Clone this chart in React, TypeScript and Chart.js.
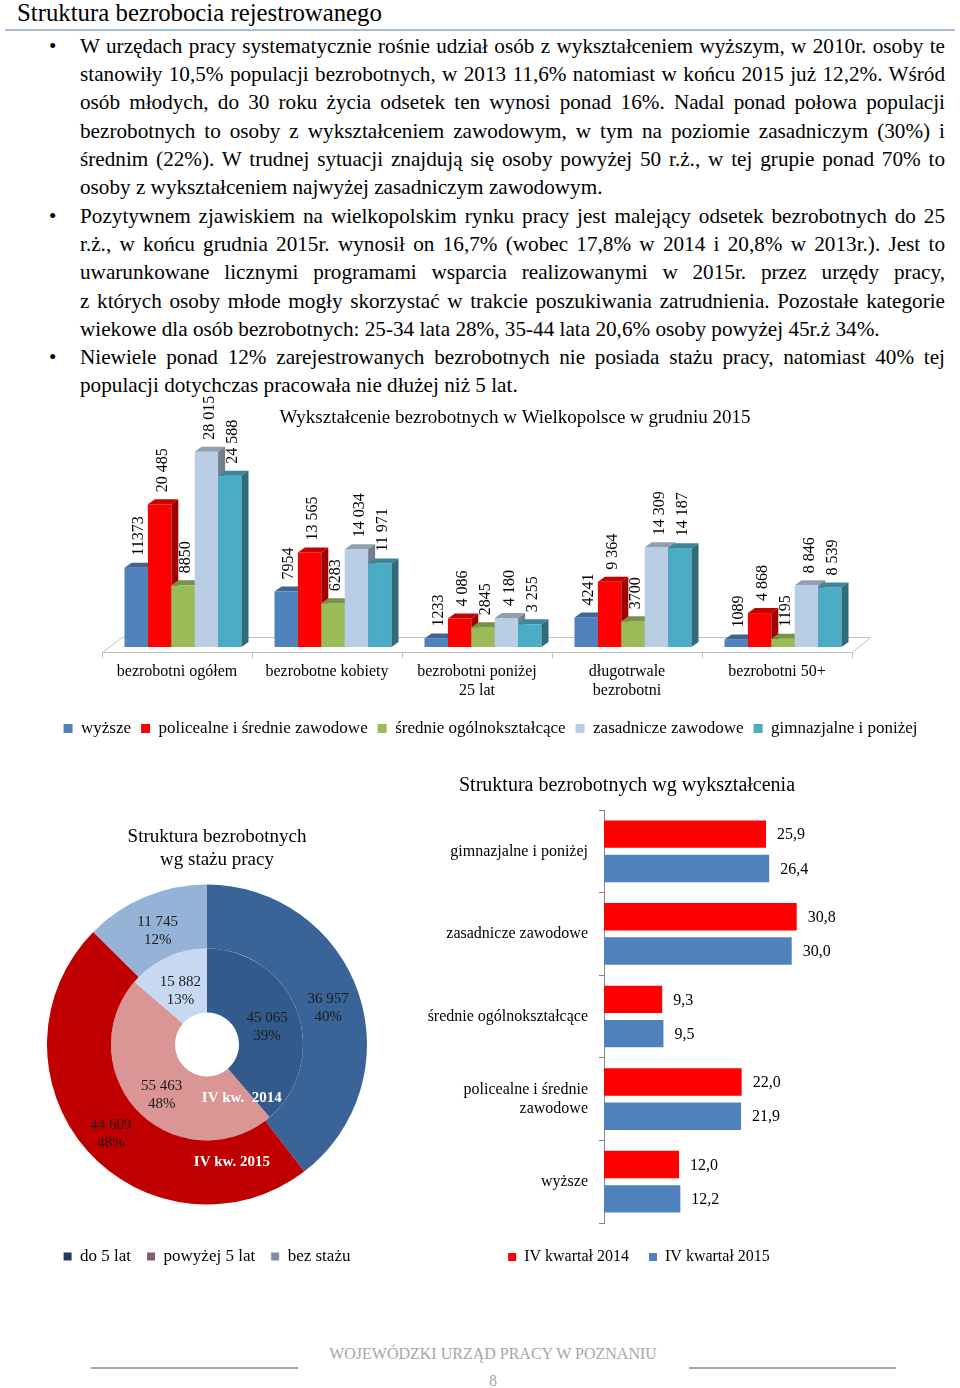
import React, { useEffect, useRef } from "react";
import { Chart, registerables } from "chart.js";

Chart.register(...registerables);

const SERIF = "'Liberation Serif', 'Times New Roman', Times, serif";

// ---------- Chart 1: Wykształcenie bezrobotnych ----------
const eduTitle = "Wykształcenie bezrobotnych w Wielkopolsce w grudniu 2015";
const eduCategories = [
  ["bezrobotni ogółem"],
  ["bezrobotne kobiety"],
  ["bezrobotni poniżej", "25 lat"],
  ["długotrwale", "bezrobotni"],
  ["bezrobotni 50+"],
];
const eduSeriesNames = [
  "wyższe",
  "policealne i średnie zawodowe",
  "średnie ogólnokształcące",
  "zasadnicze zawodowe",
  "gimnazjalne i poniżej",
];
const eduWyzsze = [11373, 7954, 1233, 4241, 1089];
const eduPolicealne = [20485, 13565, 4086, 9364, 4868];
const eduSrednieOgolne = [8850, 6283, 2845, 3700, 1195];
const eduZasadnicze = [28015, 14034, 4180, 14309, 8846];
const eduGimnazjalne = [24588, 11971, 3255, 14187, 8539];
const eduColors = ["#4f81bd", "#ff0000", "#9bbb59", "#b9cde5", "#4bacc6"];
const eduLabelGrouped = [false, true, false, true, true];

// ---------- Chart 2: Struktura wg stażu ----------
const stazTitle = ["Struktura bezrobotnych", "wg stażu pracy"];
const stazLabels = ["do 5 lat", "powyżej 5 lat", "bez stażu"];
const stazRingNames = ["IV kw. 2015", "IV kw.  2014"];
const staz2015 = [36957, 44609, 11745];
const staz2015Pct = [40, 48, 12];
const staz2014 = [45065, 55463, 15882];
const staz2014Pct = [39, 48, 13];
const staz2015Colors = ["#3a6397", "#c00000", "#95b3d7"];
const staz2014Colors = ["#325b8c", "#d99694", "#c6d9f1"];
const stazLegendColors = ["#1f3864", "#8e5b62", "#7f8ea3"];

// ---------- Chart 3: Struktura wg wykształcenia ----------
const wykTitle = "Struktura bezrobotnych wg wykształcenia";
const wykCategories = [
  ["gimnazjalne i poniżej"],
  ["zasadnicze zawodowe"],
  ["średnie ogólnokształcące"],
  ["policealne i średnie", "zawodowe"],
  ["wyższe"],
];
const wykSeriesNames = ["IV kwartał 2014", "IV kwartał 2015"];
const wyk2014 = [25.9, 30.8, 9.3, 22.0, 12.0];
const wyk2015 = [26.4, 30.0, 9.5, 21.9, 12.2];
const wykColors = ["#ff0000", "#4f81bd"];

// ---------- Text ----------
const pageTitle = "Struktura bezrobocia rejestrowanego";
const paragraphs = [
  [
    "W urzędach pracy systematycznie rośnie udział osób z wykształceniem wyższym, w 2010r. osoby te",
    "stanowiły 10,5% populacji bezrobotnych, w 2013 11,6% natomiast w końcu 2015 już 12,2%. Wśród",
    "osób młodych, do 30 roku życia odsetek ten wynosi ponad 16%. Nadal ponad połowa populacji",
    "bezrobotnych to osoby z wykształceniem zawodowym, w tym na poziomie zasadniczym (30%) i",
    "średnim (22%). W trudnej sytuacji znajdują się osoby powyżej 50 r.ż., w tej grupie ponad 70% to",
    "osoby z wykształceniem najwyżej zasadniczym zawodowym.",
  ],
  [
    "Pozytywnem zjawiskiem na wielkopolskim rynku pracy jest malejący odsetek bezrobotnych do 25",
    "r.ż., w końcu grudnia 2015r. wynosił on 16,7% (wobec 17,8% w 2014 i 20,8% w 2013r.). Jest to",
    "uwarunkowane licznymi programami wsparcia realizowanymi w 2015r. przez urzędy pracy,",
    "z których osoby młode mogły skorzystać w trakcie poszukiwania zatrudnienia.  Pozostałe kategorie",
    "wiekowe dla osób bezrobotnych: 25-34 lata 28%, 35-44 lata 20,6% osoby powyżej 45r.ż 34%.",
  ],
  [
    "Niewiele ponad 12% zarejestrowanych bezrobotnych nie posiada stażu pracy, natomiast 40% tej",
    "populacji dotychczas pracowała nie dłużej niż 5 lat.",
  ],
];
const footerText = "WOJEWÓDZKI URZĄD PRACY W POZNANIU";
const pageNumber = "8";

// ---------- helpers ----------
function groupDigits(v: number): string {
  return String(v).replace(/\B(?=(\d{3})+(?!\d))/g, " ");
}
function shade(hex: string, f: number): string {
  const n = parseInt(hex.slice(1), 16);
  const r = Math.round(((n >> 16) & 255) * f);
  const g = Math.round(((n >> 8) & 255) * f);
  const b = Math.round((n & 255) * f);
  return `rgb(${r},${g},${b})`;
}
function font(size: number, weight = "normal") {
  return `${weight} ${size}px ${SERIF}`;
}

function titlePlugin(id: string, lines: string[], x: number, y: number, size: number, gap: number) {
  return {
    id,
    afterDraw(chart: any) {
      const ctx = chart.ctx;
      ctx.save();
      ctx.fillStyle = "#000";
      ctx.font = font(size);
      ctx.textAlign = "center";
      ctx.textBaseline = "middle";
      lines.forEach((t, i) => ctx.fillText(t, x, y + i * gap));
      ctx.restore();
    },
  };
}

const hiddenAxis = (position: string, width: number, extra: any = {}) => ({
  position,
  display: true,
  grid: { display: false },
  border: { display: false },
  ticks: { display: false },
  afterFit: (s: any) => {
    s.width = width;
  },
  ...extra,
});

const DX = 7; // depth of the 3D look
const DY = 5;
const SHIFT_X = 6;
const SHIFT_Y = -5;

const bars3dPlugin = {
  id: "bars3d",
  beforeDatasetsDraw(chart: any) {
    const { ctx, chartArea } = chart;
    const { left, right, bottom } = chartArea;
    ctx.save();
    ctx.strokeStyle = "#bfbfbf";
    ctx.lineWidth = 1;
    ctx.beginPath();
    ctx.moveTo(left + 0.5, bottom + 0.5);
    ctx.lineTo(left + 20.5, bottom - 14.5);
    ctx.lineTo(right + 18.5, bottom - 14.5);
    ctx.lineTo(right + 0.5, bottom + 0.5);
    ctx.stroke();
    chart.data.datasets.forEach((ds: any, i: number) => {
      const meta = chart.getDatasetMeta(i);
      const col = eduColors[i];
      meta.data.forEach((el: any) => {
        const p = el.getProps(["x", "y", "base", "width"], true);
        const x0 = p.x - p.width / 2 + SHIFT_X;
        const x1 = p.x + p.width / 2 + SHIFT_X;
        const top = p.y + SHIFT_Y;
        const bot = p.base + SHIFT_Y;
        ctx.fillStyle = col;
        ctx.fillRect(x0, top, x1 - x0, bot - top);
        ctx.fillStyle = shade(col, 0.78);
        ctx.beginPath();
        ctx.moveTo(x0, top);
        ctx.lineTo(x0 + DX, top - DY);
        ctx.lineTo(x1 + DX, top - DY);
        ctx.lineTo(x1, top);
        ctx.closePath();
        ctx.fill();
        ctx.fillStyle = shade(col, 0.62);
        ctx.beginPath();
        ctx.moveTo(x1, top);
        ctx.lineTo(x1 + DX, top - DY);
        ctx.lineTo(x1 + DX, bot - DY);
        ctx.lineTo(x1, bot);
        ctx.closePath();
        ctx.fill();
      });
    });
    ctx.restore();
    return false;
  },
  afterDraw(chart: any) {
    const ctx = chart.ctx;
    ctx.save();
    ctx.fillStyle = "#000";
    ctx.font = font(16);
    ctx.textAlign = "left";
    ctx.textBaseline = "middle";
    chart.data.datasets.forEach((ds: any, i: number) => {
      const meta = chart.getDatasetMeta(i);
      meta.data.forEach((el: any, j: number) => {
        const v = ds.data[j];
        const txt = eduLabelGrouped[i] ? groupDigits(v) : String(v);
        const p = el.getProps(["x", "y"], true);
        ctx.save();
        ctx.translate(p.x + SHIFT_X + 3, p.y + SHIFT_Y - DY - 7);
        ctx.rotate(-Math.PI / 2);
        ctx.fillText(txt, 0, 0);
        ctx.restore();
      });
    });
    ctx.restore();
  },
};

const doughnutLabelsPlugin = {
  id: "doughnutLabels",
  afterDatasetsDraw(chart: any) {
    const ctx = chart.ctx;
    const pcts = [staz2015Pct, staz2014Pct];
    ctx.save();
    ctx.textAlign = "center";
    ctx.textBaseline = "middle";
    chart.data.datasets.forEach((ds: any, i: number) => {
      const meta = chart.getDatasetMeta(i);
      ctx.font = font(15);
      ctx.fillStyle = "#1a1a1a";
      meta.data.forEach((el: any, j: number) => {
        const c = el.getCenterPoint();
        ctx.fillText(groupDigits(ds.data[j]), c.x, c.y - 4);
        ctx.fillText(pcts[i][j] + "%", c.x, c.y + 14);
      });
      const a0 = meta.data[0];
      const pr = a0.getProps(["x", "y", "innerRadius", "outerRadius"], true);
      const ang = ((i === 0 ? 168 : 147) - 90) * (Math.PI / 180);
      const r = (pr.innerRadius + pr.outerRadius) / 2 - (i === 0 ? 8 : 0);
      ctx.font = font(15, "bold");
      ctx.fillStyle = "#ffffff";
      ctx.fillText(ds.label, pr.x + r * Math.cos(ang), pr.y + r * Math.sin(ang));
    });
    ctx.restore();
  },
};

const hbarLabelsPlugin = {
  id: "hbarLabels",
  afterDatasetsDraw(chart: any) {
    const ctx = chart.ctx;
    ctx.save();
    ctx.font = font(16);
    ctx.fillStyle = "#000";
    ctx.textAlign = "left";
    ctx.textBaseline = "middle";
    chart.data.datasets.forEach((ds: any, i: number) => {
      chart.getDatasetMeta(i).data.forEach((el: any, j: number) => {
        const p = el.getProps(["x", "y"], true);
        ctx.fillText(ds.data[j].toFixed(1).replace(".", ","), p.x + 11, p.y + 1);
      });
    });
    ctx.restore();
  },
};

export default function App() {
  const c1 = useRef<HTMLCanvasElement>(null);
  const c2 = useRef<HTMLCanvasElement>(null);
  const c3 = useRef<HTMLCanvasElement>(null);

  useEffect(() => {
    const eduSeries = [eduWyzsze, eduPolicealne, eduSrednieOgolne, eduZasadnicze, eduGimnazjalne];
    const chart1 = new Chart(c1.current as HTMLCanvasElement, {
      type: "bar",
      data: {
        labels: eduCategories as any,
        datasets: eduSeries.map((d, i) => ({
          label: eduSeriesNames[i],
          data: d,
          backgroundColor: eduColors[i],
          borderWidth: 0,
          categoryPercentage: 0.78,
          barPercentage: 1,
        })),
      },
      options: {
        animation: false,
        responsive: false,
        maintainAspectRatio: false,
        layout: { padding: { left: 5, right: 4, top: 48, bottom: 8 } },
        plugins: {
          legend: {
            position: "bottom",
            labels: { boxWidth: 9, boxHeight: 9, padding: 10, color: "#000", font: { family: SERIF, size: 17 } },
          },
          tooltip: { enabled: false },
        },
        scales: {
          x: {
            grid: { display: true, drawOnChartArea: false, offset: true, tickLength: 6, color: "#bfbfbf" },
            border: { display: true, color: "#bfbfbf" },
            ticks: { color: "#000", padding: 5, maxRotation: 0, autoSkip: false, font: { family: SERIF, size: 16, lineHeight: 1.15 } },
            afterFit: (s: any) => {
              s.height = 58;
            },
          },
          y: hiddenAxis("left", 77, { min: 0, max: 30000 }),
          yRight: hiddenAxis("right", 104, { type: "linear" }),
        },
      } as any,
      plugins: [bars3dPlugin, titlePlugin("t1", [eduTitle], 495, 23, 19, 0)],
    });

    const chart2 = new Chart(c2.current as HTMLCanvasElement, {
      type: "doughnut",
      data: {
        labels: stazLabels,
        datasets: [
          { label: stazRingNames[0], data: staz2015, backgroundColor: staz2015Colors, borderWidth: 0 },
          { label: stazRingNames[1], data: staz2014, backgroundColor: staz2014Colors, borderWidth: 0 },
        ],
      },
      options: {
        animation: false,
        responsive: false,
        maintainAspectRatio: false,
        cutout: "20%",
        radius: 160,
        layout: { padding: { left: 0, right: 0, top: 42, bottom: 10 } },
        plugins: {
          legend: {
            position: "bottom",
            labels: {
              boxWidth: 8,
              boxHeight: 8,
              padding: 16,
              color: "#000",
              font: { family: SERIF, size: 17 },
              generateLabels: () =>
                stazLabels.map((t, i) => ({
                  text: t,
                  fillStyle: stazLegendColors[i],
                  strokeStyle: stazLegendColors[i],
                  lineWidth: 0,
                  hidden: false,
                  index: i,
                  fontColor: "#000",
                })),
            },
          },
          tooltip: { enabled: false },
        },
      } as any,
      plugins: [doughnutLabelsPlugin, titlePlugin("t2", stazTitle, 200, 22, 19, 23)],
    });

    const chart3 = new Chart(c3.current as HTMLCanvasElement, {
      type: "bar",
      data: {
        labels: wykCategories as any,
        datasets: [wyk2014, wyk2015].map((d, i) => ({
          label: wykSeriesNames[i],
          data: d,
          backgroundColor: wykColors[i],
          borderWidth: 0,
          categoryPercentage: 0.83,
          barPercentage: 0.8,
        })),
      },
      options: {
        indexAxis: "y",
        animation: false,
        responsive: false,
        maintainAspectRatio: false,
        layout: { padding: { left: 20, right: 22, top: 40, bottom: 5 } },
        plugins: {
          legend: {
            position: "bottom",
            labels: { boxWidth: 8, boxHeight: 8, padding: 20, color: "#000", font: { family: SERIF, size: 16 } },
          },
          tooltip: { enabled: false },
        },
        scales: {
          y: {
            grid: { display: true, drawOnChartArea: false, offset: true, tickLength: 5, color: "#868686" },
            border: { display: true, color: "#868686" },
            ticks: { color: "#000", padding: 11, autoSkip: false, font: { family: SERIF, size: 16, lineHeight: 1.15 } },
            afterFit: (s: any) => {
              s.width = 184;
            },
          },
          yRight: hiddenAxis("right", 35, { type: "linear" }),
          x: {
            min: 0,
            max: 35,
            grid: { display: false },
            border: { display: false },
            ticks: { display: false },
            afterFit: (s: any) => {
              s.height = 6;
            },
          },
        },
      } as any,
      plugins: [hbarLabelsPlugin, titlePlugin("t3", [wykTitle], 227, 16, 20, 0)],
    });

    return () => {
      chart1.destroy();
      chart2.destroy();
      chart3.destroy();
    };
  }, []);

  const abs = (l: number, t: number, w: number, h: number): React.CSSProperties => ({
    position: "absolute",
    left: l,
    top: t,
    width: w,
    height: h,
  });

  let lineIndex = 0;
  const LINE_H = 28.3;
  const TEXT_TOP = 46 - LINE_H / 2;

  return (
    <div
      style={{
        position: "absolute",
        left: 0,
        top: 0,
        width: 960,
        height: 1388,
        background: "#fff",
        color: "#000",
        fontFamily: SERIF,
        overflow: "hidden",
      }}
    >
      <div style={{ ...abs(17, 0, 700, 25), fontSize: 24.8, lineHeight: "25px", whiteSpace: "nowrap" }}>{pageTitle}</div>
      <div style={{ ...abs(5, 29, 950, 2), background: "#a7bccf" }} />

      {paragraphs.map((lines, pi) =>
        lines.map((line, li) => {
          const top = TEXT_TOP + lineIndex * LINE_H;
          lineIndex++;
          const last = li === lines.length - 1;
          return (
            <React.Fragment key={`${pi}-${li}`}>
              {li === 0 && (
                <div style={{ ...abs(49, top, 14, LINE_H), fontSize: 21, lineHeight: `${LINE_H}px` }}>•</div>
              )}
              <div
                style={{
                  ...abs(80, top, 865, LINE_H),
                  fontSize: 21.2,
                  lineHeight: `${LINE_H}px`,
                  textAlign: "justify",
                  textAlignLast: last ? "left" : "justify",
                }}
              >
                {line}
              </div>
            </React.Fragment>
          );
        })
      )}

      <canvas ref={c1} width={940} height={360} style={{ ...abs(20, 395, 940, 360) }} />
      <canvas ref={c2} width={380} height={470} style={{ ...abs(17, 815, 380, 470) }} />
      <canvas ref={c3} width={480} height={510} style={{ ...abs(400, 770, 480, 510) }} />

      <div
        style={{
          ...abs(230, 1343, 526, 22),
          fontSize: 16,
          lineHeight: "22px",
          textAlign: "center",
          color: "#a6a6a6",
          whiteSpace: "nowrap",
        }}
      >
        {footerText}
      </div>
      <div style={{ ...abs(91, 1367, 207, 2), background: "#a6a6a6" }} />
      <div style={{ ...abs(689, 1367, 207, 2), background: "#a6a6a6" }} />
      <div style={{ ...abs(443, 1371, 100, 20), fontSize: 16, lineHeight: "20px", textAlign: "center", color: "#a6a6a6" }}>
        {pageNumber}
      </div>
    </div>
  );
}
